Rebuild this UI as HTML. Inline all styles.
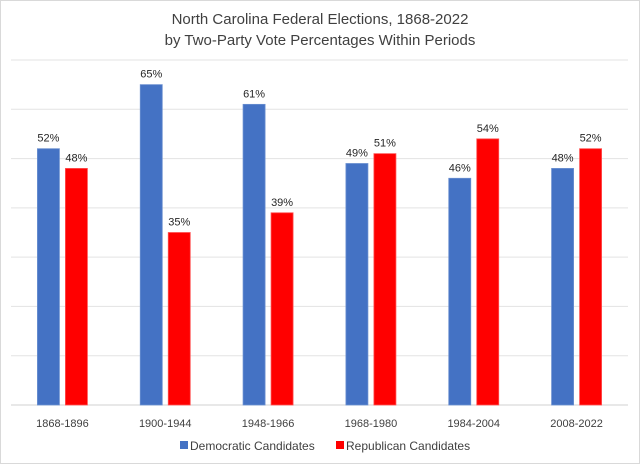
<!DOCTYPE html>
<html><head><meta charset="utf-8"><style>
body{margin:0;background:#fff}
svg text{font-family:"Liberation Sans",sans-serif;fill:#404040}
</style></head><body>
<svg width="640" height="464" xmlns="http://www.w3.org/2000/svg">
<rect x="0.5" y="0.5" width="639" height="463" fill="#fff" stroke="#d9d9d9"/>
<text x="320" y="24" text-anchor="middle" font-size="15">North Carolina Federal Elections, 1868-2022</text>
<text x="320" y="45" text-anchor="middle" font-size="15">by Two-Party Vote Percentages Within Periods</text>
<g id="grid"></g><g id="bars"></g><g id="labels"></g>
<g>
<rect x="180" y="441" width="8" height="8" fill="#4472c4"/>
<text x="190" y="450" font-size="12">Democratic Candidates</text>
<rect x="336" y="441" width="8" height="8" fill="#ff0000"/>
<text x="346" y="450" font-size="12">Republican Candidates</text>
</g>
</svg>
<script>
const categories=["1868-1896","1900-1944","1948-1966","1968-1980","1984-2004","2008-2022"];
const demValues=[52,65,61,49,46,48];
const repValues=[48,35,39,51,54,52];
const gridTicks=[0,10,20,30,40,50,60,70];
const NS="http://www.w3.org/2000/svg";
const L=11,R=628,B=405,T=60,MAX=70;
const y=v=>B-(B-T)*v/MAX;
const gw=(R-L)/categories.length;
const cx=i=>L+gw*(i+0.5);
function mk(tag,attrs,parent){const e=document.createElementNS(NS,tag);for(const k in attrs)e.setAttribute(k,attrs[k]);document.getElementById(parent).appendChild(e);return e;}
gridTicks.forEach(t=>{const l=mk('line',{x1:L,x2:R,y1:y(t),y2:y(t),stroke:t===0?'#d0d0d0':'#e3e3e3','stroke-width':1},'grid');

});
const bw=22,gap=6;
categories.forEach((c,i)=>{
 [[demValues[i],'#4472c4','#6a8fd0',-1],[repValues[i],'#ff0000','#ff5050',1]].forEach(([v,col,st,s])=>{
  const x=s<0?cx(i)-gap/2-bw:cx(i)+gap/2;
  const r=mk('rect',{x:x,y:y(v),width:bw,height:B-y(v),fill:col,stroke:st,'stroke-width':0.8},'bars');
  
  
  const t=mk('text',{x:x+bw/2,y:y(v)-7,'text-anchor':'middle','font-size':11,style:'fill:#262626'},'labels');
  t.textContent=v+'%';
  
  
 });
 const t=mk('text',{x:cx(i),y:427,'text-anchor':'middle','font-size':11},'labels');
 t.textContent=c;
 
 
});
</script>
</body></html>
